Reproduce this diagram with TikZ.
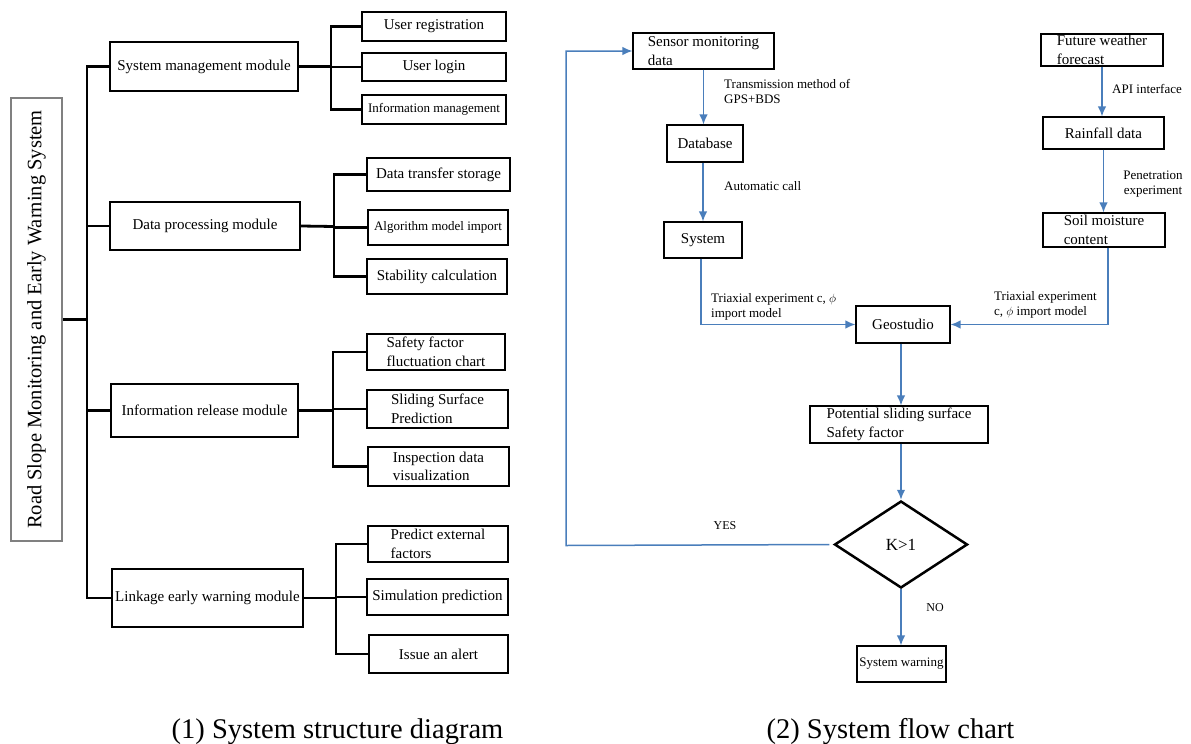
\documentclass[tikz,border=0pt]{standalone}
\usepackage{fontspec}
\usepackage{graphicx}
\setmainfont{Liberation Serif}
\usetikzlibrary{arrows.meta,shapes.geometric}
\definecolor{flowblue}{RGB}{74,126,187}
\definecolor{rootgray}{RGB}{128,128,128}
\newcommand\fsMod{\fontsize{15}{18.5}\selectfont}
\newcommand\fsSmall{\fontsize{13}{16}\selectfont}
\newcommand\fsLab{\fontsize{13}{15.5}\selectfont}
\newcommand\fsRoot{\fontsize{20.5}{24}\selectfont}
\newcommand\fsCap{\fontsize{28.5}{34}\selectfont}
\begin{document}
\begin{tikzpicture}[x=1pt,y=-1pt,
  sz/.style 2 args={minimum width=#1pt,minimum height=#2pt},
  tbox/.style={draw=black,line width=2pt,inner sep=0pt,align=left,font=\fsMod},
  tline/.style={line width=2.2pt},
  fbox/.style={draw=black,line width=1.1pt,inner sep=0pt,align=left,font=\fsMod},
  farr/.style={draw=flowblue,line width=1.5pt,-{Latex[length=10pt,width=8.5pt]}},
  flab/.style={font=\fsLab,align=left,inner sep=0pt},
  captext/.style={font=\fsCap,inner sep=0pt,anchor=base}]
\useasboundingbox (0,0) rectangle (1191,744);

% ---------- left: structure diagram ----------
\node[draw=rootgray,line width=2pt,inner sep=0pt,sz={51}{443}] (root) at (36.5,319.5)
  {\rotatebox{90}{\fsRoot Road Slope Monitoring and Early Warning System}};

\node[tbox,sz={188}{49}] (m1) at (204,66.5) {System management module};
\node[tbox,sz={190}{48}] (m2) at (205,226) {Data processing module};
\node[tbox,sz={187}{53}] (m3) at (204.5,410.5) {Information release module};
\node[tbox,sz={191}{58}] (m4) at (207.5,598) {Linkage early warning module};

\node[tbox,sz={144}{29}] (c11) at (434,26.5) {User registration};
\node[tbox,sz={144}{28}] (c12) at (434,67) {User login};
\node[tbox,sz={144}{29},font=\fsSmall] (c13) at (434,109.5) {Information management};

\node[tbox,sz={143}{33}] (c21) at (438.5,174.5) {Data transfer storage};
\node[tbox,sz={140}{35},font=\fsSmall] (c22) at (438,227.5) {Algorithm model import};
\node[tbox,sz={140}{35}] (c23) at (437,276.5) {Stability calculation};

\node[tbox,sz={138}{36}] (c31) at (436,352) {Safety factor\\fluctuation chart};
\node[tbox,sz={141}{38}] (c32) at (437.5,409) {Sliding Surface\\Prediction};
\node[tbox,sz={141}{39}] (c33) at (438.5,466.5) {Inspection data\\visualization};

\node[tbox,sz={140}{36}] (c41) at (438,544) {Predict external\\factors};
\node[tbox,sz={141}{36}] (c42) at (437.5,597) {Simulation prediction};
\node[tbox,sz={139}{38}] (c43) at (438.5,654) {Issue an alert};

\coordinate (sp) at (87,319.5);
\draw[tline] (root.east) -- (sp);
\foreach \m in {m1,m2,m3,m4} \draw[tline] (\m.west) -| (sp);

\coordinate (j1) at (331,66.5);
\coordinate (j2) at (334,226.5);
\coordinate (j3) at (333,410.5);
\coordinate (j4) at (336,598);
\draw[tline,line width=2.8pt] (m1.east) -- (j1);
\draw[tline,line width=2.8pt] (m2.east) -- (j2);
\draw[tline,line width=2.8pt] (m3.east) -- (j3);
\draw[tline,line width=2.8pt] (m4.east) -- (j4);
\foreach \c in {c11,c12,c13} \draw[tline] (\c.west) -| (j1);
\foreach \c in {c21,c22,c23} \draw[tline] (\c.west) -| (j2);
\foreach \c in {c31,c32,c33} \draw[tline] (\c.west) -| (j3);
\foreach \c in {c41,c42,c43} \draw[tline] (\c.west) -| (j4);

\node[captext] (cap1) at (337.5,738) {(1) System structure diagram};

% ---------- right: flow chart ----------
\node[fbox,sz={141}{36}] (sensor) at (703.5,51) {Sensor monitoring\\data};
\node[fbox,sz={76}{37}] (db) at (705,143.5) {Database};
\node[fbox,sz={78}{36}] (sys) at (703,240) {System};
\node[fbox,sz={94}{37}] (geo) at (903,324.5) {Geostudio};
\node[fbox,sz={178}{37}] (pot) at (899,424.5) {Potential sliding surface\\Safety factor};
\node[draw=black,line width=2.5pt,diamond,inner sep=0pt,sz={133}{87},font=\fontsize{17}{20}\selectfont] (dia) at (901,544.5) {K>1};
\node[fbox,sz={89}{36},font=\fsSmall] (warn) at (901.5,664) {System warning};
\node[fbox,sz={122}{32}] (future) at (1102,50) {Future weather\\forecast};
\node[fbox,sz={121}{32}] (rain) at (1103.5,133) {Rainfall data};
\node[fbox,sz={122}{34}] (soil) at (1104,230) {Soil moisture\\content};

\draw[farr] (sensor.south) -- (sensor.south |- db.north);
\draw[farr] (sys.north |- db.south) -- (sys.north);
\draw[farr] ([xshift=-2pt]sys.south) |- (geo.west);
\draw[farr] (future.south) -- (future.south |- rain.north);
\draw[farr] (rain.south) -- (rain.south |- soil.north);
\draw[farr] ([xshift=4pt]soil.south) |- (geo.east);
\draw[farr] ([xshift=-2pt]geo.south) -- ([xshift=2pt]pot.north);
\draw[farr] (pot.south -| dia.north) -- (dia.north);
\draw[farr] (dia.south) -- (dia.south |- warn.north);
\coordinate (loop) at (566,545.5);
\draw[farr,shorten <=4pt] (dia.west) -- (loop) |- (sensor.west);

\node[flab,anchor=west] (l1) at (724,91.5) {Transmission method of\\GPS+BDS};
\node[flab,anchor=west] (l2) at (724,186) {Automatic call};
\node[flab,anchor=west] (l3) at (711,307) {Triaxial experiment c, $\phi$\\import model};
\node[flab,anchor=west] (l4) at (1112,89) {API interface};
\node[flab,align=center] (l5) at (1153,184) {Penetration\\experiment};
\node[flab,anchor=west] (l6) at (994,305) {Triaxial experiment\\c, $\phi$ import model};
\node[flab,font=\fontsize{12}{14}\selectfont] (l7) at (725,526) {YES};
\node[flab,font=\fontsize{12}{14}\selectfont] (l8) at (935,608) {NO};

\node[captext] (cap2) at (890.5,738) {(2) System flow chart};
\end{tikzpicture}
\end{document}
